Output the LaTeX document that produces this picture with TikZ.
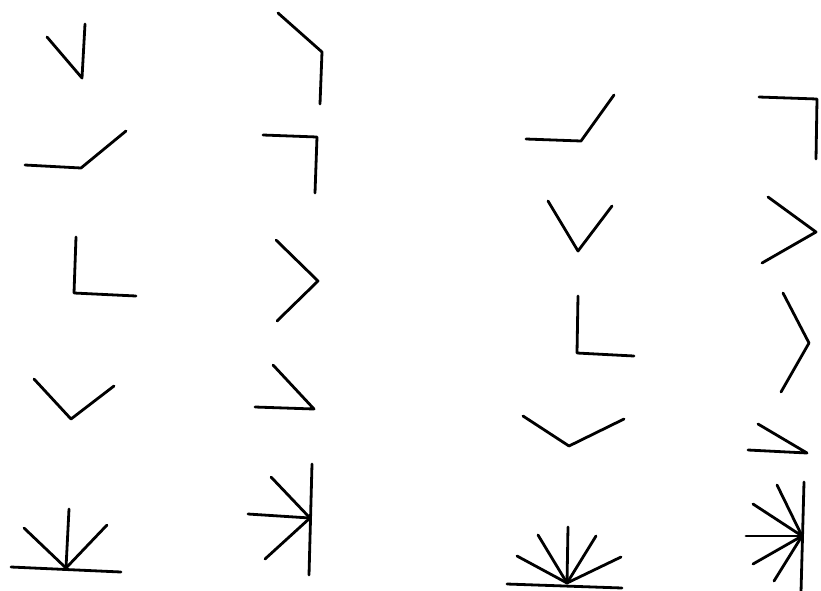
\documentclass[tikz,border=0pt]{standalone}
\usetikzlibrary{calc}
\tikzset{arm/.style={line width=2.8pt,line cap=round,line join=round}}

\begin{document}
\begin{tikzpicture}[x=1pt,y=-1pt]
\useasboundingbox (0,0) rectangle (821,590);
% left half, first column
\draw[arm] (47,37)--(82,78)--(85,24);
\draw[arm] (25,165)--(81,168)--(126,131);
\draw[arm] (76,237)--(74,293)--(136,296);
\draw[arm] (34,379)--(71,419)--(114,386);
\coordinate (fanA) at (66,568);
\draw[arm] (11,567)--(121,572);
\foreach \e in {(69,509),(24,528),(107,525)}
  \draw[arm] (fanA)--\e;
% left half, second column
\draw[arm] (278,13)--(322,52)--(320,104);
\draw[arm] (263,135)--(317,137)--(315,193);
\draw[arm] (276,240)--(318,281)--(277,321);
\draw[arm] (273,365)--(314,409)--(255,407);
\coordinate (fanB) at (310,518);
\draw[arm] (312,464)--(309,575);
\foreach \e in {(271,477),(248,514),(265,559)}
  \draw[arm] (fanB)--\e;
% right half, first column
\draw[arm] (526,139)--(581,141)--(614,95);
\draw[arm] (548,201)--(578,251)--(612,206);
\draw[arm] (578,296)--(577,353)--(634,356);
\draw[arm] (523,416)--(569,446)--(624,419);
\coordinate (fanC) at (567,583);
\draw[arm] (507,584)--(622,588);
\foreach \e in {(568,527),(538,535),(596,536),(517,556),(621,557)}
  \draw[arm] (fanC)--\e;
% right half, second column
\draw[arm] (759,97)--(817,99)--(816,159);
\draw[arm] (768,197)--(816,232)--(762,263);
\draw[arm] (783,293)--(809,343)--(781,392);
\draw[arm] (758,424)--(807,453)--(748,450);
\coordinate (fanD) at (802,536);
\draw[arm] (804,482)--(801,592);
\foreach \e in {(777,485),(753,504),(746,536),(753,564),(774,581)}
  \draw[arm] (fanD)--\e;
\end{tikzpicture}
\end{document}
